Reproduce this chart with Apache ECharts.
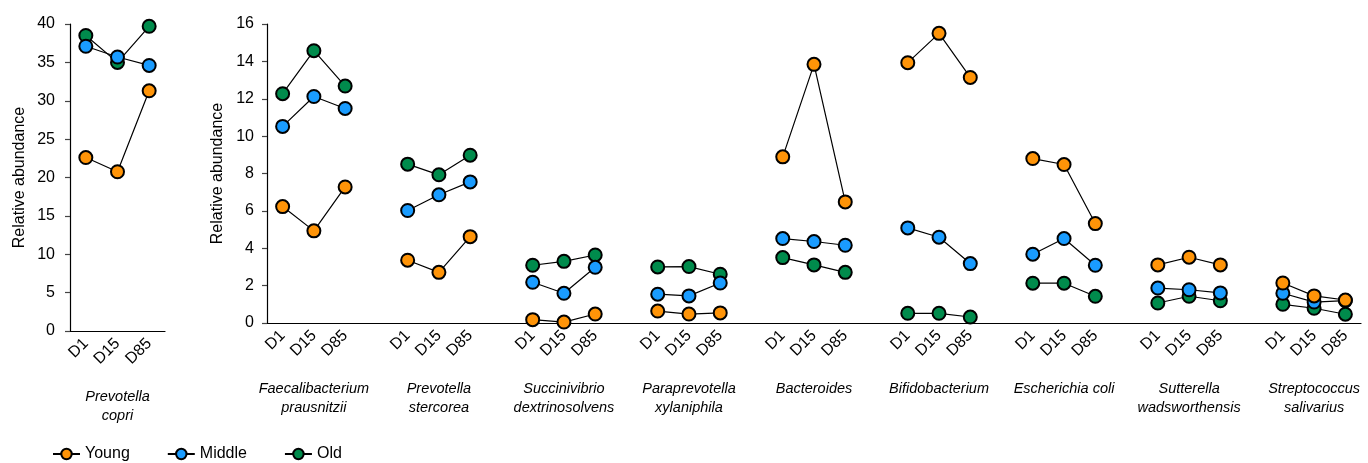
<!DOCTYPE html>
<html>
<head>
<meta charset="utf-8">
<script src="https://cdn.jsdelivr.net/npm/echarts@6/dist/echarts.min.js"></script>
<style>
html,body{margin:0;padding:0;background:#fff;}
#c{width:1368px;height:463px;}
</style>
</head>
<body>
<div id="c"></div>
<script>
// ---- data ----
const days = ['D1', 'D15', 'D85'];
const leftSpecies = 'Prevotella\ncopri';
const leftYoung = [22.6, 20.75, 31.3];
const leftMiddle = [37.1, 35.7, 34.6];
const leftOld = [38.5, 35.0, 39.7];

const species = ['Faecalibacterium\nprausnitzii', 'Prevotella\nstercorea', 'Succinivibrio\ndextrinosolvens',
  'Paraprevotella\nxylaniphila', 'Bacteroides', 'Bifidobacterium', 'Escherichia coli',
  'Sutterella\nwadsworthensis', 'Streptococcus\nsalivarius'];
const young = [[6.23, 4.93, 7.28], [3.36, 2.71, 4.62], [0.18, 0.05, 0.48], [0.64, 0.48, 0.54],
  [8.89, 13.84, 6.48], [13.93, 15.5, 13.14], [8.8, 8.48, 5.32], [3.11, 3.52, 3.11], [2.14, 1.45, 1.23]];
const middle = [[10.52, 12.12, 11.48], [6.02, 6.86, 7.55], [2.18, 1.59, 2.98], [1.54, 1.45, 2.14],
  [4.52, 4.36, 4.16], [5.09, 4.59, 3.18], [3.68, 4.52, 3.09], [1.87, 1.78, 1.61], [1.59, 1.12, 1.2]];
const old = [[12.27, 14.57, 12.68], [8.5, 7.93, 8.98], [3.09, 3.3, 3.64], [3.0, 3.02, 2.61],
  [3.5, 3.11, 2.71], [0.52, 0.52, 0.32], [2.13, 2.13, 1.43], [1.07, 1.43, 1.19], [1.0, 0.79, 0.47]];

const groupNames = ['Young', 'Middle', 'Old'];
const colors = {Young: '#FF9408', Middle: '#1A9CFF', Old: '#008B4C'};

// ---- build category slots (3 days + spacer per species) ----
const cats = [], speciesCats = [];
species.forEach((s, g) => {
  days.forEach((d, i) => { cats.push(d); speciesCats.push(i === 1 ? s : ''); });
  if (g < species.length - 1) { cats.push(''); speciesCats.push(''); }
});
function flatten(arr) {
  const out = [];
  arr.forEach((grp, g) => {
    grp.forEach(v => out.push(v));
    if (g < arr.length - 1) out.push(null);
  });
  return out;
}

const FONT = 'Liberation Sans, Arial, Helvetica, sans-serif';
const axisLineStyle = {color: '#000', width: 1.2};
const tickStyle = {color: '#444', width: 1.2};

function seriesFor(name, leftData, rightData) {
  const base = {
    type: 'line', name: name, symbol: 'circle', symbolSize: 13,
    itemStyle: {color: colors[name], borderColor: '#000', borderWidth: 2},
    lineStyle: {color: '#000', width: 1.2},
    connectNulls: false, animation: false,
    z: name === 'Young' ? 5 : (name === 'Middle' ? 4 : 3)
  };
  return [
    Object.assign({}, base, {xAxisIndex: 0, yAxisIndex: 0, data: leftData}),
    Object.assign({}, base, {xAxisIndex: 1, yAxisIndex: 1, data: flatten(rightData)})
  ];
}

const chart = echarts.init(document.getElementById('c'), null, {renderer: 'canvas'});
chart.setOption({
  animation: false,
  textStyle: {fontFamily: FONT},
  grid: [
    {left: 70, top: 24, width: 95, height: 307},
    {left: 267, top: 24, width: 1094, height: 299}
  ],
  legend: {
    data: groupNames, left: 47, top: 441, itemWidth: 27, itemHeight: 13, itemGap: 37,
    textStyle: {fontSize: 16, color: '#000', fontFamily: FONT}
  },
  xAxis: [
    {type: 'category', gridIndex: 0, data: days, boundaryGap: true,
      axisLine: {lineStyle: axisLineStyle}, axisTick: {alignWithLabel: true, length: 5, lineStyle: tickStyle},
      axisLabel: {rotate: 45, margin: 10, fontSize: 16, color: '#000', interval: 0}},
    {type: 'category', gridIndex: 1, data: cats, boundaryGap: true,
      axisLine: {lineStyle: axisLineStyle},
      axisTick: {alignWithLabel: true, length: 5, lineStyle: tickStyle, interval: (i, v) => v !== ''},
      axisLabel: {rotate: 45, margin: 10, fontSize: 16, color: '#000', interval: 0}},
    {type: 'category', gridIndex: 0, data: ['', leftSpecies, ''], boundaryGap: true, position: 'bottom', offset: 48,
      axisLine: {show: false}, axisTick: {show: false},
      axisLabel: {interval: 0, fontStyle: 'italic', fontSize: 14.5, lineHeight: 19, color: '#000'}},
    {type: 'category', gridIndex: 1, data: speciesCats, boundaryGap: true, position: 'bottom', offset: 48,
      axisLine: {show: false}, axisTick: {show: false},
      axisLabel: {interval: 0, fontStyle: 'italic', fontSize: 14.5, lineHeight: 19, color: '#000'}}
  ],
  yAxis: [
    {type: 'value', gridIndex: 0, min: 0, max: 40, interval: 5, splitLine: {show: false},
      axisLine: {show: true, lineStyle: axisLineStyle}, axisTick: {show: true, length: 5, lineStyle: tickStyle},
      axisLabel: {fontSize: 16, color: '#000', margin: 15},
      name: 'Relative abundance', nameLocation: 'middle', nameGap: 42,
      nameTextStyle: {fontSize: 16, color: '#000'}},
    {type: 'value', gridIndex: 1, min: 0, max: 16, interval: 2, splitLine: {show: false},
      axisLine: {show: true, lineStyle: axisLineStyle}, axisTick: {show: true, length: 5, lineStyle: tickStyle},
      axisLabel: {fontSize: 16, color: '#000', margin: 13},
      name: 'Relative abundance', nameLocation: 'middle', nameGap: 40,
      nameTextStyle: {fontSize: 16, color: '#000'}}
  ],
  series: [].concat(
    seriesFor('Old', leftOld, old),
    seriesFor('Middle', leftMiddle, middle),
    seriesFor('Young', leftYoung, young)
  )
});
</script>
</body>
</html>
